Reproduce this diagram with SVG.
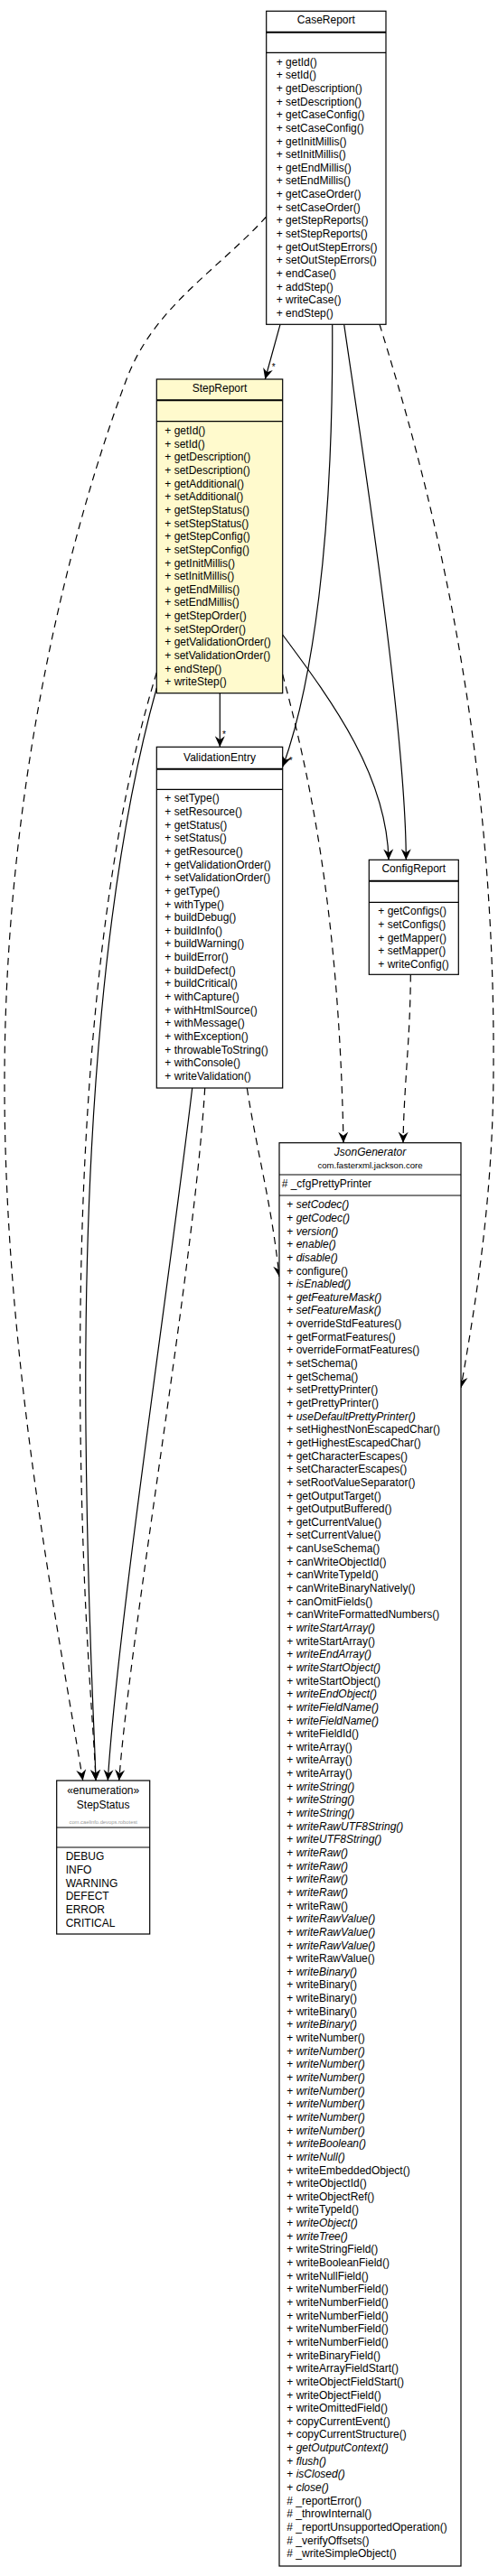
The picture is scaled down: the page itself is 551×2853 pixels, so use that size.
<svg xmlns="http://www.w3.org/2000/svg" width="551" height="2853" viewBox="0 0 551 2853">
<style>
text{font-family:"Liberation Sans",Arial,Helvetica,sans-serif;font-size:12px;fill:#000}
.box{fill:#fff;stroke:#000;stroke-width:1.2}
.hl{fill:#fffacd}
.sep{stroke:#000;stroke-width:1.2}
.sep2{stroke:#000;stroke-width:2}
.nm{text-anchor:middle}
.it{font-style:italic}
.pkg{font-size:9.6px;text-anchor:middle}
.pkg2{font-size:5.8px;text-anchor:middle;fill:#999}
.mult{font-size:10px}
.edge{fill:none;stroke:#000;stroke-width:1.2;marker-end:url(#arr)}
.dep{fill:none;stroke:#000;stroke-width:1.2;stroke-dasharray:8,6;marker-end:url(#arr)}
</style>
<defs>
<marker id="arr" viewBox="-13 -7 14 14" refX="0" refY="0" markerWidth="14" markerHeight="14" markerUnits="userSpaceOnUse" orient="auto">
<path d="M0,0 L-12,-5.5 L-8,0 L-12,5.5 Z" fill="#000"/>
</marker>
</defs>

<g id="connectors">
<path class="edge" d="M310,359.3 L293.3,420"/>
<path class="edge" d="M367.7,359.3 C369,600 345,760 313,849"/>
<path class="edge" d="M380.7,359.3 C395,460 449,800 449.3,952.3"/>
<path class="edge" d="M312.7,703 C370,780 428,860 430,952.3"/>
<path class="edge" d="M243.3,767.7 L243.3,827.3"/>
<path class="dep" d="M420,359.3 C470,520 548,800 546,1180 C546,1330 525,1450 510,1537"/>
<path class="dep" d="M294.7,240 C240,300 170,340 140,420 C110,500 5,800 5,1200 C5,1500 60,1780 91.7,1972"/>
<path class="dep" d="M312.7,747 C340,850 375,1000 380,1265.7"/>
<path class="dep" d="M173.3,745 C110,950 85,1250 89,1584 C92,1800 103,1900 106,1972"/>
<path class="edge" d="M173.3,762 C118,960 92,1250 95,1584 C97,1800 104,1900 106,1972"/>
<path class="dep" d="M454.3,1079.3 C454,1150 447,1200 446,1265.7"/>
<path class="edge" d="M212.7,1205 C190,1400 130,1800 119.3,1972"/>
<path class="dep" d="M226.7,1205 C215,1400 145,1800 131.7,1972"/>
<path class="dep" d="M273.3,1205 C285,1280 300,1330 309,1414"/>
<text class="mult" x="300.8" y="409.7">*</text>
<text class="mult" x="246" y="816.7">*</text>
<text class="mult" x="319.8" y="846.4">*</text>
</g>

<g id="CaseReport">
<rect class="box" x="294.7" y="12.3" width="132.3" height="347"/>
<line class="sep2" x1="294.7" y1="35.7" x2="427" y2="35.7"/>
<line class="sep" x1="294.7" y1="58.3" x2="427" y2="58.3"/>
<text class="nm" x="360.85" y="26">CaseReport</text>
<text x="305.7" y="72.6"><tspan x="305.7">+ getId()</tspan><tspan x="305.7" dy="14.65">+ setId()</tspan><tspan x="305.7" dy="14.65">+ getDescription()</tspan><tspan x="305.7" dy="14.65">+ setDescription()</tspan><tspan x="305.7" dy="14.65">+ getCaseConfig()</tspan><tspan x="305.7" dy="14.65">+ setCaseConfig()</tspan><tspan x="305.7" dy="14.65">+ getInitMillis()</tspan><tspan x="305.7" dy="14.65">+ setInitMillis()</tspan><tspan x="305.7" dy="14.65">+ getEndMillis()</tspan><tspan x="305.7" dy="14.65">+ setEndMillis()</tspan><tspan x="305.7" dy="14.65">+ getCaseOrder()</tspan><tspan x="305.7" dy="14.65">+ setCaseOrder()</tspan><tspan x="305.7" dy="14.65">+ getStepReports()</tspan><tspan x="305.7" dy="14.65">+ setStepReports()</tspan><tspan x="305.7" dy="14.65">+ getOutStepErrors()</tspan><tspan x="305.7" dy="14.65">+ setOutStepErrors()</tspan><tspan x="305.7" dy="14.65">+ endCase()</tspan><tspan x="305.7" dy="14.65">+ addStep()</tspan><tspan x="305.7" dy="14.65">+ writeCase()</tspan><tspan x="305.7" dy="14.65">+ endStep()</tspan></text>
</g>

<g id="StepReport">
<rect class="box hl" x="173.3" y="420" width="139.4" height="347.7"/>
<line class="sep2" x1="173.3" y1="443.3" x2="312.7" y2="443.3"/>
<line class="sep" x1="173.3" y1="466.7" x2="312.7" y2="466.7"/>
<text class="nm" x="243" y="434.3">StepReport</text>
<text x="182.3" y="481"><tspan x="182.3">+ getId()</tspan><tspan x="182.3" dy="14.65">+ setId()</tspan><tspan x="182.3" dy="14.65">+ getDescription()</tspan><tspan x="182.3" dy="14.65">+ setDescription()</tspan><tspan x="182.3" dy="14.65">+ getAdditional()</tspan><tspan x="182.3" dy="14.65">+ setAdditional()</tspan><tspan x="182.3" dy="14.65">+ getStepStatus()</tspan><tspan x="182.3" dy="14.65">+ setStepStatus()</tspan><tspan x="182.3" dy="14.65">+ getStepConfig()</tspan><tspan x="182.3" dy="14.65">+ setStepConfig()</tspan><tspan x="182.3" dy="14.65">+ getInitMillis()</tspan><tspan x="182.3" dy="14.65">+ setInitMillis()</tspan><tspan x="182.3" dy="14.65">+ getEndMillis()</tspan><tspan x="182.3" dy="14.65">+ setEndMillis()</tspan><tspan x="182.3" dy="14.65">+ getStepOrder()</tspan><tspan x="182.3" dy="14.65">+ setStepOrder()</tspan><tspan x="182.3" dy="14.65">+ getValidationOrder()</tspan><tspan x="182.3" dy="14.65">+ setValidationOrder()</tspan><tspan x="182.3" dy="14.65">+ endStep()</tspan><tspan x="182.3" dy="14.65">+ writeStep()</tspan></text>
</g>

<g id="ValidationEntry">
<rect class="box" x="173.3" y="827.3" width="139.4" height="377.7"/>
<line class="sep2" x1="173.3" y1="851.7" x2="312.7" y2="851.7"/>
<line class="sep" x1="173.3" y1="874.3" x2="312.7" y2="874.3"/>
<text class="nm" x="243" y="842.6">ValidationEntry</text>
<text x="182.3" y="888.3"><tspan x="182.3">+ setType()</tspan><tspan x="182.3" dy="14.65">+ setResource()</tspan><tspan x="182.3" dy="14.65">+ getStatus()</tspan><tspan x="182.3" dy="14.65">+ setStatus()</tspan><tspan x="182.3" dy="14.65">+ getResource()</tspan><tspan x="182.3" dy="14.65">+ getValidationOrder()</tspan><tspan x="182.3" dy="14.65">+ setValidationOrder()</tspan><tspan x="182.3" dy="14.65">+ getType()</tspan><tspan x="182.3" dy="14.65">+ withType()</tspan><tspan x="182.3" dy="14.65">+ buildDebug()</tspan><tspan x="182.3" dy="14.65">+ buildInfo()</tspan><tspan x="182.3" dy="14.65">+ buildWarning()</tspan><tspan x="182.3" dy="14.65">+ buildError()</tspan><tspan x="182.3" dy="14.65">+ buildDefect()</tspan><tspan x="182.3" dy="14.65">+ buildCritical()</tspan><tspan x="182.3" dy="14.65">+ withCapture()</tspan><tspan x="182.3" dy="14.65">+ withHtmlSource()</tspan><tspan x="182.3" dy="14.65">+ withMessage()</tspan><tspan x="182.3" dy="14.65">+ withException()</tspan><tspan x="182.3" dy="14.65">+ throwableToString()</tspan><tspan x="182.3" dy="14.65">+ withConsole()</tspan><tspan x="182.3" dy="14.65">+ writeValidation()</tspan></text>
</g>

<g id="ConfigReport">
<rect class="box" x="408.3" y="952.3" width="99" height="127"/>
<line class="sep2" x1="408.3" y1="975.7" x2="507.3" y2="975.7"/>
<line class="sep" x1="408.3" y1="999.3" x2="507.3" y2="999.3"/>
<text class="nm" x="457.8" y="966">ConfigReport</text>
<text x="418.3" y="1013.3"><tspan x="418.3">+ getConfigs()</tspan><tspan x="418.3" dy="14.65">+ setConfigs()</tspan><tspan x="418.3" dy="14.65">+ getMapper()</tspan><tspan x="418.3" dy="14.65">+ setMapper()</tspan><tspan x="418.3" dy="14.65">+ writeConfig()</tspan></text>
</g>

<g id="JsonGenerator">
<rect class="box" x="309" y="1265.7" width="201" height="1576.3"/>
<line class="sep" x1="309" y1="1301" x2="510" y2="1301"/>
<line class="sep" x1="309" y1="1324" x2="510" y2="1324"/>
<text class="nm it" x="409.5" y="1280">JsonGenerator</text>
<text class="pkg" x="409.5" y="1293.5">com.fasterxml.jackson.core</text>
<text x="311.7" y="1315"># _cfgPrettyPrinter</text>
<text x="317.3" y="1338.3"><tspan x="317.3">+ <tspan class="it">setCodec()</tspan></tspan><tspan x="317.3" dy="14.647">+ <tspan class="it">getCodec()</tspan></tspan><tspan x="317.3" dy="14.647">+ <tspan class="it">version()</tspan></tspan><tspan x="317.3" dy="14.647">+ <tspan class="it">enable()</tspan></tspan><tspan x="317.3" dy="14.647">+ <tspan class="it">disable()</tspan></tspan><tspan x="317.3" dy="14.647">+ configure()</tspan><tspan x="317.3" dy="14.647">+ <tspan class="it">isEnabled()</tspan></tspan><tspan x="317.3" dy="14.647">+ <tspan class="it">getFeatureMask()</tspan></tspan><tspan x="317.3" dy="14.647">+ <tspan class="it">setFeatureMask()</tspan></tspan><tspan x="317.3" dy="14.647">+ overrideStdFeatures()</tspan><tspan x="317.3" dy="14.647">+ getFormatFeatures()</tspan><tspan x="317.3" dy="14.647">+ overrideFormatFeatures()</tspan><tspan x="317.3" dy="14.647">+ setSchema()</tspan><tspan x="317.3" dy="14.647">+ getSchema()</tspan><tspan x="317.3" dy="14.647">+ setPrettyPrinter()</tspan><tspan x="317.3" dy="14.647">+ getPrettyPrinter()</tspan><tspan x="317.3" dy="14.647">+ <tspan class="it">useDefaultPrettyPrinter()</tspan></tspan><tspan x="317.3" dy="14.647">+ setHighestNonEscapedChar()</tspan><tspan x="317.3" dy="14.647">+ getHighestEscapedChar()</tspan><tspan x="317.3" dy="14.647">+ getCharacterEscapes()</tspan><tspan x="317.3" dy="14.647">+ setCharacterEscapes()</tspan><tspan x="317.3" dy="14.647">+ setRootValueSeparator()</tspan><tspan x="317.3" dy="14.647">+ getOutputTarget()</tspan><tspan x="317.3" dy="14.647">+ getOutputBuffered()</tspan><tspan x="317.3" dy="14.647">+ getCurrentValue()</tspan><tspan x="317.3" dy="14.647">+ setCurrentValue()</tspan><tspan x="317.3" dy="14.647">+ canUseSchema()</tspan><tspan x="317.3" dy="14.647">+ canWriteObjectId()</tspan><tspan x="317.3" dy="14.647">+ canWriteTypeId()</tspan><tspan x="317.3" dy="14.647">+ canWriteBinaryNatively()</tspan><tspan x="317.3" dy="14.647">+ canOmitFields()</tspan><tspan x="317.3" dy="14.647">+ canWriteFormattedNumbers()</tspan><tspan x="317.3" dy="14.647">+ <tspan class="it">writeStartArray()</tspan></tspan><tspan x="317.3" dy="14.647">+ writeStartArray()</tspan><tspan x="317.3" dy="14.647">+ <tspan class="it">writeEndArray()</tspan></tspan><tspan x="317.3" dy="14.647">+ <tspan class="it">writeStartObject()</tspan></tspan><tspan x="317.3" dy="14.647">+ writeStartObject()</tspan><tspan x="317.3" dy="14.647">+ <tspan class="it">writeEndObject()</tspan></tspan><tspan x="317.3" dy="14.647">+ <tspan class="it">writeFieldName()</tspan></tspan><tspan x="317.3" dy="14.647">+ <tspan class="it">writeFieldName()</tspan></tspan><tspan x="317.3" dy="14.647">+ writeFieldId()</tspan><tspan x="317.3" dy="14.647">+ writeArray()</tspan><tspan x="317.3" dy="14.647">+ writeArray()</tspan><tspan x="317.3" dy="14.647">+ writeArray()</tspan><tspan x="317.3" dy="14.647">+ <tspan class="it">writeString()</tspan></tspan><tspan x="317.3" dy="14.647">+ <tspan class="it">writeString()</tspan></tspan><tspan x="317.3" dy="14.647">+ <tspan class="it">writeString()</tspan></tspan><tspan x="317.3" dy="14.647">+ <tspan class="it">writeRawUTF8String()</tspan></tspan><tspan x="317.3" dy="14.647">+ <tspan class="it">writeUTF8String()</tspan></tspan><tspan x="317.3" dy="14.647">+ <tspan class="it">writeRaw()</tspan></tspan><tspan x="317.3" dy="14.647">+ <tspan class="it">writeRaw()</tspan></tspan><tspan x="317.3" dy="14.647">+ <tspan class="it">writeRaw()</tspan></tspan><tspan x="317.3" dy="14.647">+ <tspan class="it">writeRaw()</tspan></tspan><tspan x="317.3" dy="14.647">+ writeRaw()</tspan><tspan x="317.3" dy="14.647">+ <tspan class="it">writeRawValue()</tspan></tspan><tspan x="317.3" dy="14.647">+ <tspan class="it">writeRawValue()</tspan></tspan><tspan x="317.3" dy="14.647">+ <tspan class="it">writeRawValue()</tspan></tspan><tspan x="317.3" dy="14.647">+ writeRawValue()</tspan><tspan x="317.3" dy="14.647">+ <tspan class="it">writeBinary()</tspan></tspan><tspan x="317.3" dy="14.647">+ writeBinary()</tspan><tspan x="317.3" dy="14.647">+ writeBinary()</tspan><tspan x="317.3" dy="14.647">+ writeBinary()</tspan><tspan x="317.3" dy="14.647">+ <tspan class="it">writeBinary()</tspan></tspan><tspan x="317.3" dy="14.647">+ writeNumber()</tspan><tspan x="317.3" dy="14.647">+ <tspan class="it">writeNumber()</tspan></tspan><tspan x="317.3" dy="14.647">+ <tspan class="it">writeNumber()</tspan></tspan><tspan x="317.3" dy="14.647">+ <tspan class="it">writeNumber()</tspan></tspan><tspan x="317.3" dy="14.647">+ <tspan class="it">writeNumber()</tspan></tspan><tspan x="317.3" dy="14.647">+ <tspan class="it">writeNumber()</tspan></tspan><tspan x="317.3" dy="14.647">+ <tspan class="it">writeNumber()</tspan></tspan><tspan x="317.3" dy="14.647">+ <tspan class="it">writeNumber()</tspan></tspan><tspan x="317.3" dy="14.647">+ <tspan class="it">writeBoolean()</tspan></tspan><tspan x="317.3" dy="14.647">+ <tspan class="it">writeNull()</tspan></tspan><tspan x="317.3" dy="14.647">+ writeEmbeddedObject()</tspan><tspan x="317.3" dy="14.647">+ writeObjectId()</tspan><tspan x="317.3" dy="14.647">+ writeObjectRef()</tspan><tspan x="317.3" dy="14.647">+ writeTypeId()</tspan><tspan x="317.3" dy="14.647">+ <tspan class="it">writeObject()</tspan></tspan><tspan x="317.3" dy="14.647">+ <tspan class="it">writeTree()</tspan></tspan><tspan x="317.3" dy="14.647">+ writeStringField()</tspan><tspan x="317.3" dy="14.647">+ writeBooleanField()</tspan><tspan x="317.3" dy="14.647">+ writeNullField()</tspan><tspan x="317.3" dy="14.647">+ writeNumberField()</tspan><tspan x="317.3" dy="14.647">+ writeNumberField()</tspan><tspan x="317.3" dy="14.647">+ writeNumberField()</tspan><tspan x="317.3" dy="14.647">+ writeNumberField()</tspan><tspan x="317.3" dy="14.647">+ writeNumberField()</tspan><tspan x="317.3" dy="14.647">+ writeBinaryField()</tspan><tspan x="317.3" dy="14.647">+ writeArrayFieldStart()</tspan><tspan x="317.3" dy="14.647">+ writeObjectFieldStart()</tspan><tspan x="317.3" dy="14.647">+ writeObjectField()</tspan><tspan x="317.3" dy="14.647">+ writeOmittedField()</tspan><tspan x="317.3" dy="14.647">+ copyCurrentEvent()</tspan><tspan x="317.3" dy="14.647">+ copyCurrentStructure()</tspan><tspan x="317.3" dy="14.647">+ <tspan class="it">getOutputContext()</tspan></tspan><tspan x="317.3" dy="14.647">+ <tspan class="it">flush()</tspan></tspan><tspan x="317.3" dy="14.647">+ <tspan class="it">isClosed()</tspan></tspan><tspan x="317.3" dy="14.647">+ <tspan class="it">close()</tspan></tspan><tspan x="317.3" dy="14.647"># _reportError()</tspan><tspan x="317.3" dy="14.647"># _throwInternal()</tspan><tspan x="317.3" dy="14.647"># _reportUnsupportedOperation()</tspan><tspan x="317.3" dy="14.647"># _verifyOffsets()</tspan><tspan x="317.3" dy="14.647"># _writeSimpleObject()</tspan></text>
</g>

<g id="StepStatus">
<rect class="box" x="62.7" y="1972" width="103" height="170"/>
<line class="sep" x1="62.7" y1="2024" x2="165.7" y2="2024"/>
<line class="sep" x1="62.7" y1="2046" x2="165.7" y2="2046"/>
<text class="nm" x="114.2" y="1987.3">«enumeration»</text>
<text class="nm" x="114.2" y="2003.3">StepStatus</text>
<text class="pkg2" x="114.2" y="2020">com.caelinfo.devops.robotest</text>
<text x="72.7" y="2060.3"><tspan x="72.7">DEBUG</tspan><tspan x="72.7" dy="14.7">INFO</tspan><tspan x="72.7" dy="14.7">WARNING</tspan><tspan x="72.7" dy="14.7">DEFECT</tspan><tspan x="72.7" dy="14.7">ERROR</tspan><tspan x="72.7" dy="14.7">CRITICAL</tspan></text>
</g>
</svg>
